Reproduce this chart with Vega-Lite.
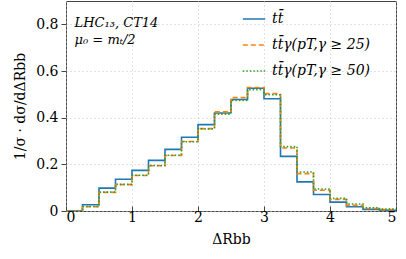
{
  "$schema": "https://vega.github.io/schema/vega-lite/v6.json",
  "width": 330,
  "height": 210,
  "autosize": {"type": "none"},
  "padding": {"left": 66, "top": 1, "right": 10, "bottom": 48},
  "background": "white",
  "config": {
    "font": "DejaVu Serif",
    "view": {"stroke": "#444", "strokeWidth": 1}
  },
  "layer": [
    {
      "data": {
        "values": [
          {"x": 0, "y": 0, "s": "tt̄"},
          {"x": 0.25, "y": 0.027, "s": "tt̄"},
          {"x": 0.5, "y": 0.098, "s": "tt̄"},
          {"x": 0.75, "y": 0.136, "s": "tt̄"},
          {"x": 1.0, "y": 0.174, "s": "tt̄"},
          {"x": 1.25, "y": 0.217, "s": "tt̄"},
          {"x": 1.5, "y": 0.264, "s": "tt̄"},
          {"x": 1.75, "y": 0.316, "s": "tt̄"},
          {"x": 2.0, "y": 0.37, "s": "tt̄"},
          {"x": 2.25, "y": 0.42, "s": "tt̄"},
          {"x": 2.5, "y": 0.478, "s": "tt̄"},
          {"x": 2.75, "y": 0.526, "s": "tt̄"},
          {"x": 3.0, "y": 0.481, "s": "tt̄"},
          {"x": 3.25, "y": 0.234, "s": "tt̄"},
          {"x": 3.5, "y": 0.125, "s": "tt̄"},
          {"x": 3.75, "y": 0.071, "s": "tt̄"},
          {"x": 4.0, "y": 0.038, "s": "tt̄"},
          {"x": 4.25, "y": 0.018, "s": "tt̄"},
          {"x": 4.5, "y": 0.007, "s": "tt̄"},
          {"x": 4.75, "y": 0.003, "s": "tt̄"},
          {"x": 5.0, "y": 0.003, "s": "tt̄"},
          {"x": 0, "y": 0, "s": "tt̄γ(pT,γ ≥ 25)"},
          {"x": 0.25, "y": 0.018, "s": "tt̄γ(pT,γ ≥ 25)"},
          {"x": 0.5, "y": 0.08, "s": "tt̄γ(pT,γ ≥ 25)"},
          {"x": 0.75, "y": 0.113, "s": "tt̄γ(pT,γ ≥ 25)"},
          {"x": 1.0, "y": 0.152, "s": "tt̄γ(pT,γ ≥ 25)"},
          {"x": 1.25, "y": 0.194, "s": "tt̄γ(pT,γ ≥ 25)"},
          {"x": 1.5, "y": 0.238, "s": "tt̄γ(pT,γ ≥ 25)"},
          {"x": 1.75, "y": 0.298, "s": "tt̄γ(pT,γ ≥ 25)"},
          {"x": 2.0, "y": 0.353, "s": "tt̄γ(pT,γ ≥ 25)"},
          {"x": 2.25, "y": 0.425, "s": "tt̄γ(pT,γ ≥ 25)"},
          {"x": 2.5, "y": 0.486, "s": "tt̄γ(pT,γ ≥ 25)"},
          {"x": 2.75, "y": 0.529, "s": "tt̄γ(pT,γ ≥ 25)"},
          {"x": 3.0, "y": 0.503, "s": "tt̄γ(pT,γ ≥ 25)"},
          {"x": 3.25, "y": 0.27, "s": "tt̄γ(pT,γ ≥ 25)"},
          {"x": 3.5, "y": 0.16, "s": "tt̄γ(pT,γ ≥ 25)"},
          {"x": 3.75, "y": 0.089, "s": "tt̄γ(pT,γ ≥ 25)"},
          {"x": 4.0, "y": 0.05, "s": "tt̄γ(pT,γ ≥ 25)"},
          {"x": 4.25, "y": 0.024, "s": "tt̄γ(pT,γ ≥ 25)"},
          {"x": 4.5, "y": 0.011, "s": "tt̄γ(pT,γ ≥ 25)"},
          {"x": 4.75, "y": 0.006, "s": "tt̄γ(pT,γ ≥ 25)"},
          {"x": 5.0, "y": 0.006, "s": "tt̄γ(pT,γ ≥ 25)"},
          {"x": 0, "y": 0, "s": "tt̄γ(pT,γ ≥ 50)"},
          {"x": 0.25, "y": 0.019, "s": "tt̄γ(pT,γ ≥ 50)"},
          {"x": 0.5, "y": 0.081, "s": "tt̄γ(pT,γ ≥ 50)"},
          {"x": 0.75, "y": 0.114, "s": "tt̄γ(pT,γ ≥ 50)"},
          {"x": 1.0, "y": 0.153, "s": "tt̄γ(pT,γ ≥ 50)"},
          {"x": 1.25, "y": 0.195, "s": "tt̄γ(pT,γ ≥ 50)"},
          {"x": 1.5, "y": 0.239, "s": "tt̄γ(pT,γ ≥ 50)"},
          {"x": 1.75, "y": 0.297, "s": "tt̄γ(pT,γ ≥ 50)"},
          {"x": 2.0, "y": 0.352, "s": "tt̄γ(pT,γ ≥ 50)"},
          {"x": 2.25, "y": 0.415, "s": "tt̄γ(pT,γ ≥ 50)"},
          {"x": 2.5, "y": 0.474, "s": "tt̄γ(pT,γ ≥ 50)"},
          {"x": 2.75, "y": 0.52, "s": "tt̄γ(pT,γ ≥ 50)"},
          {"x": 3.0, "y": 0.498, "s": "tt̄γ(pT,γ ≥ 50)"},
          {"x": 3.25, "y": 0.276, "s": "tt̄γ(pT,γ ≥ 50)"},
          {"x": 3.5, "y": 0.167, "s": "tt̄γ(pT,γ ≥ 50)"},
          {"x": 3.75, "y": 0.094, "s": "tt̄γ(pT,γ ≥ 50)"},
          {"x": 4.0, "y": 0.054, "s": "tt̄γ(pT,γ ≥ 50)"},
          {"x": 4.25, "y": 0.03, "s": "tt̄γ(pT,γ ≥ 50)"},
          {"x": 4.5, "y": 0.014, "s": "tt̄γ(pT,γ ≥ 50)"},
          {"x": 4.75, "y": 0.008, "s": "tt̄γ(pT,γ ≥ 50)"},
          {"x": 5.0, "y": 0.008, "s": "tt̄γ(pT,γ ≥ 50)"}
        ]
      },
      "mark": {"type": "line", "interpolate": "step-after", "strokeWidth": 1.6, "clip": true},
      "encoding": {
        "x": {
          "field": "x", "type": "quantitative",
          "scale": {"domain": [0, 5], "nice": false},
          "axis": {
            "title": "ΔRbb", "titleFont": "DejaVu Serif", "titleFontSize": 14, "titleFontWeight": "normal", "titleColor": "#000", "titlePadding": 8,
            "values": [0, 1, 2, 3, 4, 5], "format": "d", "labelFontSize": 14, "labelColor": "#000", "labelFont": "DejaVu Serif",
            "tickSize": -5, "labelPadding": 4, "domain": false, "tickColor": "#444",
            "grid": true, "gridDash": [1, 3], "gridColor": "#c4c4c4"
          }
        },
        "y": {
          "field": "y", "type": "quantitative",
          "scale": {"domain": [0, 0.9], "nice": false},
          "axis": {
            "title": "1/σ · dσ/dΔRbb", "titleFont": "DejaVu Serif", "titleFontSize": 14, "titleFontWeight": "normal", "titleColor": "#000", "titlePadding": 8,
            "values": [0, 0.2, 0.4, 0.6, 0.8], "labelExpr": "datum.value == 0 ? '0' : format(datum.value, '.1f')",
            "labelFontSize": 14, "labelColor": "#000", "labelFont": "DejaVu Serif",
            "tickSize": 5, "labelPadding": 3, "domain": false, "tickColor": "#444",
            "grid": true, "gridDash": [1, 3], "gridColor": "#c4c4c4"
          }
        },
        "color": {
          "field": "s", "type": "nominal",
          "scale": {"domain": ["tt̄", "tt̄γ(pT,γ ≥ 25)", "tt̄γ(pT,γ ≥ 50)"], "range": ["#1f77b4", "#ff7f0e", "#2ca02c"]},
          "legend": {
            "title": null, "orient": "none", "legendX": 176, "legendY": 6,
            "symbolType": "stroke", "symbolSize": 500, "symbolStrokeWidth": 1.6,
            "labelFont": "DejaVu Serif", "labelFontStyle": "italic", "labelFontSize": 14, "labelColor": "#000",
            "rowPadding": 7, "labelOffset": 6
          }
        },
        "strokeDash": {
          "field": "s", "type": "nominal",
          "scale": {"domain": ["tt̄", "tt̄γ(pT,γ ≥ 25)", "tt̄γ(pT,γ ≥ 50)"], "range": [[1, 0], [5, 3], [1.5, 2]]},
          "legend": null
        }
      }
    },
    {
      "data": {"values": [{"t": "LHC₁₃, CT14"}]},
      "mark": {"type": "text", "align": "left", "baseline": "middle", "font": "DejaVu Serif", "fontSize": 13, "fontStyle": "italic", "fontWeight": "normal"},
      "encoding": {
        "x": {"datum": 0.13},
        "y": {"datum": 0.805},
        "text": {"field": "t"}
      }
    },
    {
      "data": {"values": [{"t": "μ₀ = mₜ/2"}]},
      "mark": {"type": "text", "align": "left", "baseline": "middle", "font": "DejaVu Serif", "fontSize": 13, "fontStyle": "italic", "fontWeight": "normal"},
      "encoding": {
        "x": {"datum": 0.13},
        "y": {"datum": 0.735},
        "text": {"field": "t"}
      }
    }
  ]
}
